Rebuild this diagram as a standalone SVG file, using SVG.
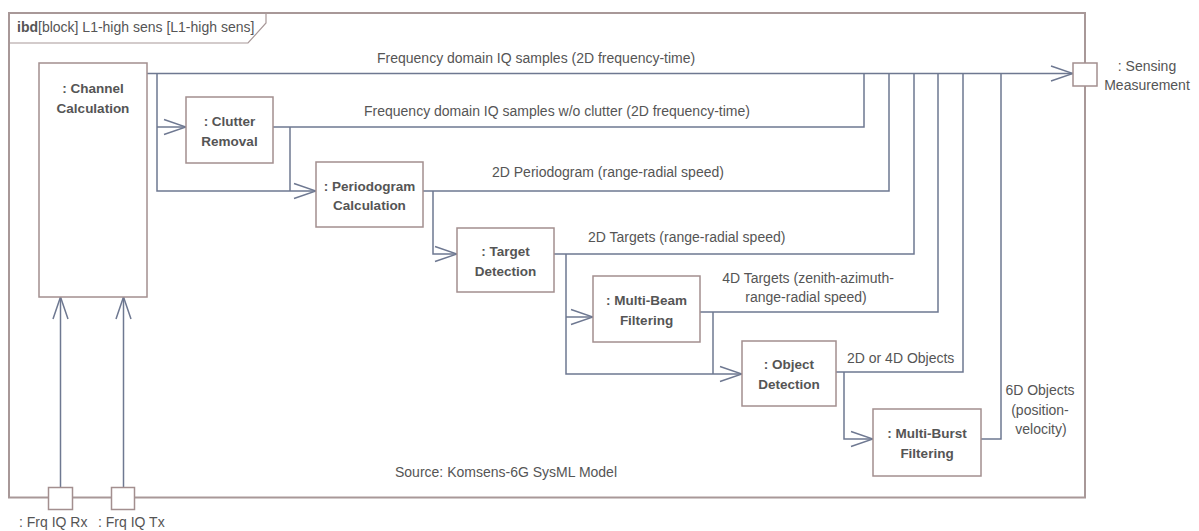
<svg xmlns="http://www.w3.org/2000/svg" width="1199" height="531" viewBox="0 0 1199 531">
<style>
  .frame{fill:none;stroke:#a89898;stroke-width:2}
  .tab{fill:none;stroke:#a89898;stroke-width:1.2}
  .box{fill:#fff;stroke:#a38f8f;stroke-width:1.5}
  .port{fill:#fff;stroke:#a38f8f;stroke-width:1.5}
  .conn{fill:none;stroke:#6e7891;stroke-width:1.5}
  .lbl{font-family:"Liberation Sans",Arial,sans-serif;font-size:14px;fill:#555}
  .name{font-family:"Liberation Sans",Arial,sans-serif;font-size:13.5px;font-weight:bold;fill:#555;text-anchor:middle}
  .mid{text-anchor:middle}
</style>
<defs>
  <marker id="arr" markerUnits="userSpaceOnUse" viewBox="-24 -10 26 20" markerWidth="26" markerHeight="20" refX="0" refY="0" orient="auto">
    <path d="M-22,-7.5 L0,0 L-22,7.5" fill="none" stroke="#6e7891" stroke-width="1.5"/>
  </marker>
</defs>
<rect width="1199" height="531" fill="#fff"/>
<g id="frame">
  <rect class="frame" x="9" y="13" width="1076" height="484.5"/>
  <path class="tab" d="M9,43 H248 L266,23 V13"/>
  <text class="lbl" x="17" y="32" font-size="13.3"><tspan font-weight="bold">ibd</tspan>[block] L1-high sens [L1-high sens]</text>
  <text class="lbl" x="395" y="477" font-size="12.6">Source: Komsens-6G SysML Model</text>
</g>
<g id="connectors">
  <path class="conn" d="M147,73.5 H1073" marker-end="url(#arr)"/>
  <path class="conn" d="M157,73.5 V191 H316" marker-end="url(#arr)"/>
  <path class="conn" d="M157,127 H186" marker-end="url(#arr)"/>
  <path class="conn" d="M273,127 H864 V73.5"/>
  <path class="conn" d="M290,127 V191"/>
  <path class="conn" d="M423,191 H889 V73.5"/>
  <path class="conn" d="M433,191 V254 H457" marker-end="url(#arr)"/>
  <path class="conn" d="M554,254 H914 V73.5"/>
  <path class="conn" d="M566,254 V374 H742" marker-end="url(#arr)"/>
  <path class="conn" d="M566,317 H593" marker-end="url(#arr)"/>
  <path class="conn" d="M700,312 H938 V73.5"/>
  <path class="conn" d="M713,312 V374"/>
  <path class="conn" d="M836,372 H963 V73.5"/>
  <path class="conn" d="M844,372 V439 H873" marker-end="url(#arr)"/>
  <path class="conn" d="M981,439 H1001 V73.5"/>
  <path class="conn" d="M60.5,488 V297" marker-end="url(#arr)"/>
  <path class="conn" d="M123.5,488 V297" marker-end="url(#arr)"/>
  <text class="lbl" x="377" y="63">Frequency domain IQ samples (2D frequency-time)</text>
  <text class="lbl" x="364" y="116">Frequency domain IQ samples w/o clutter (2D frequency-time)</text>
  <text class="lbl" x="492" y="177">2D Periodogram (range-radial speed)</text>
  <text class="lbl" x="588" y="242">2D Targets (range-radial speed)</text>
  <text class="lbl mid" x="808" y="283">4D Targets (zenith-azimuth-</text>
  <text class="lbl mid" x="806" y="302">range-radial speed)</text>
  <text class="lbl" x="847" y="363">2D or 4D Objects</text>
  <text class="lbl mid" x="1040" y="395">6D Objects</text>
  <text class="lbl mid" x="1040" y="415">(position-</text>
  <text class="lbl mid" x="1041" y="434">velocity)</text>
</g>
<g id="channel-calculation">
  <rect class="box" x="39" y="63" width="108" height="234"/>
  <text class="name" x="93" y="93">: Channel</text>
  <text class="name" x="93" y="113">Calculation</text>
</g>
<g id="clutter-removal">
  <rect class="box" x="186" y="97" width="87" height="66"/>
  <text class="name" x="229.5" y="126">: Clutter</text>
  <text class="name" x="229.5" y="146">Removal</text>
</g>
<g id="periodogram-calculation">
  <rect class="box" x="316" y="162" width="107" height="65"/>
  <text class="name" x="369.5" y="191">: Periodogram</text>
  <text class="name" x="369.5" y="210">Calculation</text>
</g>
<g id="target-detection">
  <rect class="box" x="457" y="228" width="97" height="64"/>
  <text class="name" x="505.5" y="256">: Target</text>
  <text class="name" x="505.5" y="276">Detection</text>
</g>
<g id="multi-beam-filtering">
  <rect class="box" x="593" y="276" width="107" height="66"/>
  <text class="name" x="646.5" y="305">: Multi-Beam</text>
  <text class="name" x="646.5" y="325">Filtering</text>
</g>
<g id="object-detection">
  <rect class="box" x="742" y="341" width="94" height="65"/>
  <text class="name" x="789" y="369">: Object</text>
  <text class="name" x="789" y="389">Detection</text>
</g>
<g id="multi-burst-filtering">
  <rect class="box" x="873" y="409" width="108" height="67"/>
  <text class="name" x="927" y="438">: Multi-Burst</text>
  <text class="name" x="927" y="458">Filtering</text>
</g>
<g id="port-sensing-measurement">
  <rect class="port" x="1073" y="63" width="24" height="23"/>
  <text class="lbl mid" x="1147" y="71">: Sensing</text>
  <text class="lbl mid" x="1147" y="90">Measurement</text>
</g>
<g id="port-frq-iq-rx">
  <rect class="port" x="48.5" y="487.5" width="24" height="22"/>
  <text class="lbl" x="19" y="527" font-size="13">: Frq IQ Rx</text>
</g>
<g id="port-frq-iq-tx">
  <rect class="port" x="111.5" y="487.5" width="23" height="22"/>
  <text class="lbl" x="98" y="527" font-size="13">: Frq IQ Tx</text>
</g>
</svg>
